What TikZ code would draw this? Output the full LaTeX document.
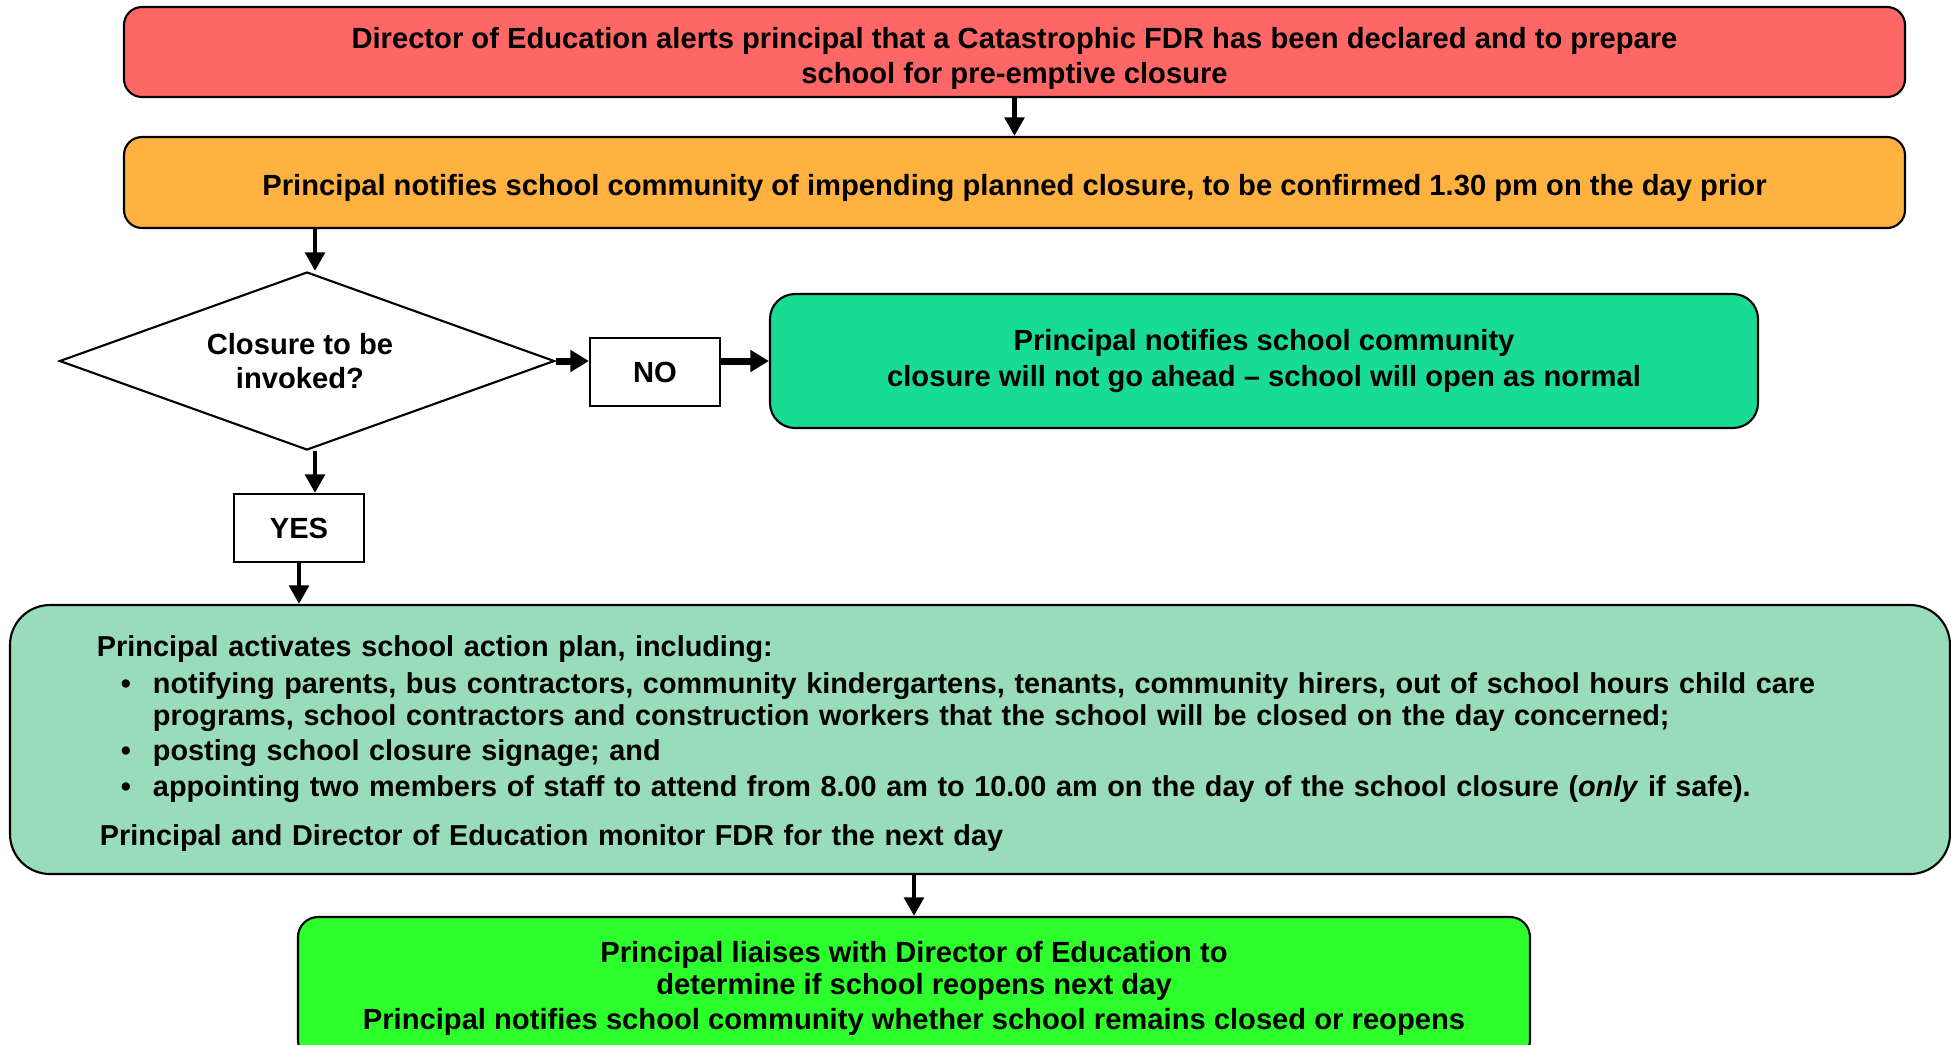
\documentclass[tikz,border=0pt]{standalone}
\usepackage{fontspec}
\setmainfont{Liberation Sans}
\usetikzlibrary{shapes.geometric,arrows.meta}

\definecolor{alertred}{RGB}{255,102,102}
\definecolor{warnorange}{RGB}{255,178,64}
\definecolor{openteal}{RGB}{24,220,148}
\definecolor{planmint}{RGB}{152,220,185}
\definecolor{reopengreen}{RGB}{44,255,44}

\newcommand{\planitem}{\hspace*{0.24cm}\makebox[0.32cm][l]{\textbullet}}

\begin{document}
\begin{tikzpicture}[font=\fontsize{8.3}{9.7}\selectfont\bfseries]
	\tikzstyle{Box} = [rectangle, rounded corners=0.18cm, draw=black, line width=0.6pt, align=center, inner sep=0pt]
	\tikzstyle{Answer} = [rectangle, draw=black, line width=0.6pt, fill=white, minimum width=1.3cm, minimum height=0.68cm]
	\tikzstyle{arrow} = [line width=1.4pt, -{Triangle[length=5.3pt,width=5.5pt]}]
	\tikzstyle{fatarrow} = [line width=2pt, -{Triangle[length=5.3pt,width=6pt]}]

	\path [use as bounding box, clip] (0,0) rectangle (19.51,-10.44);

	\node (alert) [Box, fill=alertred, minimum width=17.81cm, minimum height=0.9cm] at (10.145,-0.52) {\rule{0pt}{9.6pt}Director of Education alerts principal that a Catastrophic FDR has been declared and to prepare\\[0.1pt] school for pre-emptive closure};
	\node (notify) [Box, fill=warnorange, minimum width=17.81cm, minimum height=0.91cm] at (10.145,-1.825) {\rule{0pt}{9.4pt}Principal notifies school community of impending planned closure, to be confirmed 1.30 pm on the day prior};
	\node (decision) [diamond, shape aspect=2.78, draw=black, line width=0.6pt, fill=white, inner sep=0pt, align=center, minimum width=4.95cm, minimum height=1.78cm] at (3.07,-3.61) {Closure to be\hspace*{0.14cm}\\invoked?\hspace*{0.14cm}};
	\node (no) [Answer] at (6.55,-3.72) {NO};
	\node (yes) [Answer] at (2.99,-5.28) {YES};
	\node (keep) [Box, rounded corners=0.25cm, fill=openteal, minimum width=9.88cm, minimum height=1.34cm] at (12.64,-3.61) {Principal notifies school community\\[0.3pt] closure will not go ahead – school will open as normal};
	\node (plan) [Box, rounded corners=0.4cm, fill=planmint, minimum width=19.4cm, minimum height=2.69cm, text width=17.66cm, align=left, inner xsep=0.87cm, font=\fontsize{8.2}{9.7}\selectfont\bfseries] at (9.80,-7.395) {\rule{0pt}{8.3pt}Principal activates school action plan, including:\\[0.8pt]
		\planitem notifying parents, bus contractors, community kindergartens, tenants, community hirers, out of school hours child care\\[-0.6pt]
		\hspace*{0.56cm}programs, school contractors and construction workers that the school will be closed on the day concerned;\\[0.3pt]
		\planitem posting school closure signage; and\\[0.5pt]
		\planitem appointing two members of staff to attend from 8.00 am to 10.00 am on the day of the school closure (\textit{only} if safe).\\[4.2pt]
		\hspace*{0.03cm}Principal and Director of Education monitor FDR for the next day};
	\node (final) [Box, rounded corners=0.2cm, fill=reopengreen, minimum width=12.32cm, minimum height=1.43cm] at (9.14,-9.885) {Principal liaises with Director of Education to\\[-0.6pt] determine if school reopens next day\\[0.3pt] Principal notifies school community whether school remains closed or reopens};

	\draw [arrow] (alert) -- (notify);
	\draw [arrow] ([xshift=0.08cm]decision.north |- notify.south) -- ([xshift=0.08cm]decision.north);
	\draw [fatarrow] (decision.east) -- (decision.east -| no.west);
	\draw [fatarrow] (no.east |- decision.east) -- (decision.east -| keep.west);
	\draw [arrow] ([xshift=0.08cm]decision.south) -- ([xshift=0.08cm]decision.south |- yes.north);
	\draw [arrow] (yes.south) -- (yes.south |- plan.north);
	\draw [arrow] (final.north |- plan.south) -- (final.north);
\end{tikzpicture}
\end{document}
